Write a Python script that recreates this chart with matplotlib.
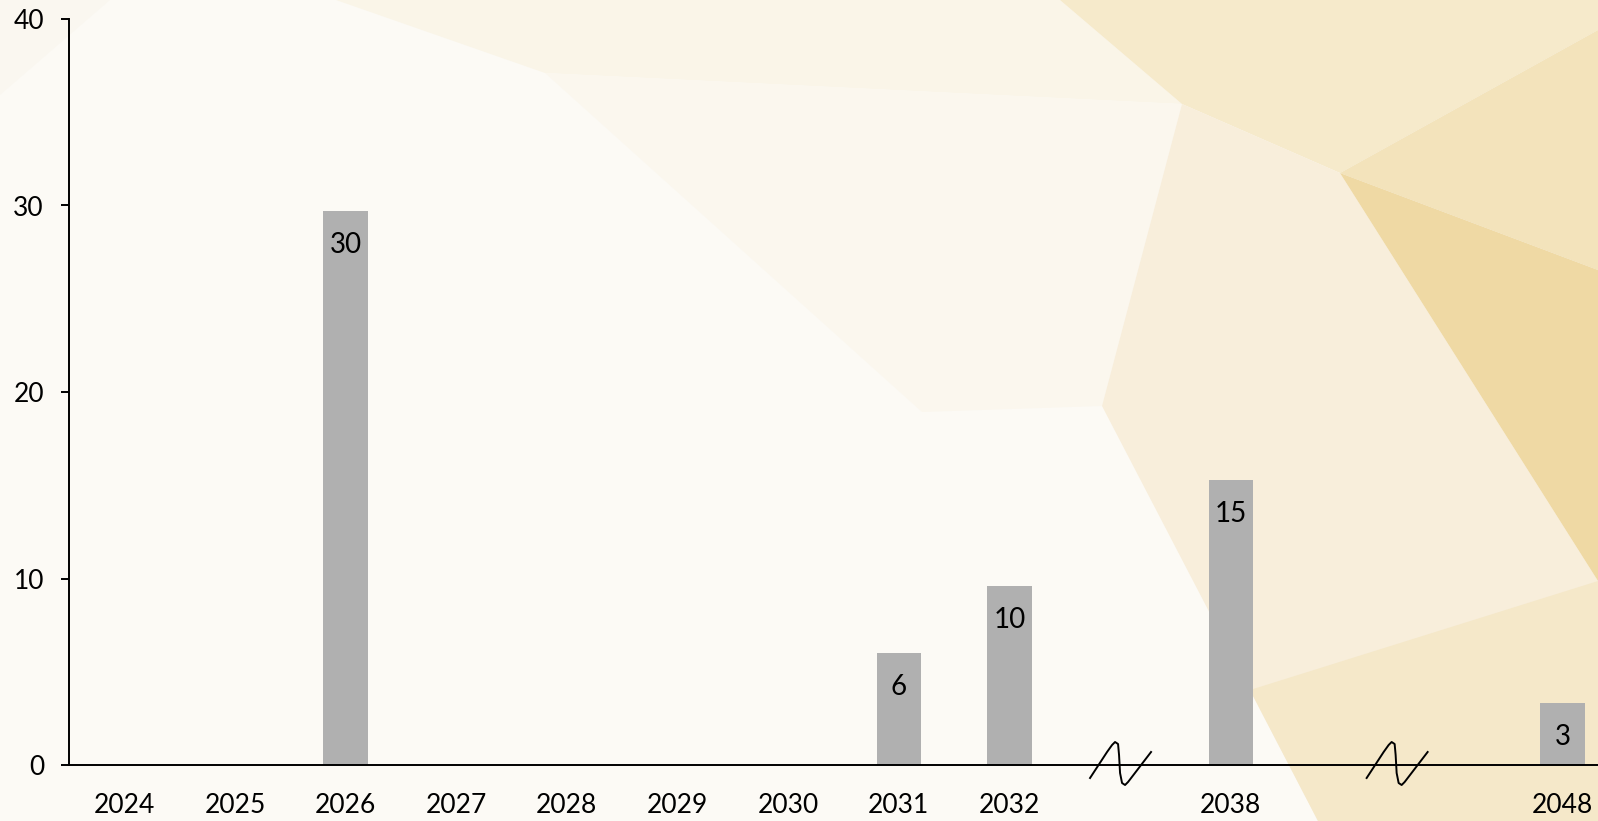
import matplotlib.pyplot as plt
import matplotlib.transforms as mtransforms
from matplotlib.patches import Polygon
from matplotlib.lines import Line2D

# data
years = ['2024', '2025', '2026', '2027', '2028', '2029', '2030', '2031', '2032', '2038', '2048']
values = [0, 0, 29.7, 0, 0, 0, 0, 6, 9.6, 15.3, 3.3]
labels = ['', '', '30', '', '', '', '', '6', '10', '15', '3']
y_ticks = [0, 10, 20, 30, 40]

plt.rcParams['font.family'] = ['Lato', 'DejaVu Sans']

# slots on the x axis: nine consecutive years, then two axis breaks
x_pos = list(range(9)) + [10, 13]
breaks = [9, 11.5]

W, H = 1598, 821
fig = plt.figure(figsize=(W / 100, H / 100), dpi=100)

# faceted cream / gold background
bg = fig.add_axes([0, 0, 1, 1], zorder=-1)
bg.set_xlim(0, W)
bg.set_ylim(H, 0)
bg.axis('off')
bg.add_patch(Polygon([(0, 0), (W, 0), (W, H), (0, H)], color='#fcfaf5'))
shapes = [
    ([(0, 95), (110, 0), (0, 0)], '#faf7f0'),
    ([(336, 0), (1060, 0), (1182, 104), (545, 73)], '#faf5e8'),
    ([(545, 73), (1182, 104), (1102, 406), (922, 412)], '#fbf7ee'),
    ([(1060, 0), (W, 0), (W, 30), (1340, 173), (1182, 104)], '#f6eacb'),
    ([(1340, 173), (W, 30), (W, 270)], '#f3e3bb'),
    ([(1182, 104), (1340, 173), (W, 581), (W, H), (1318, H), (1102, 406)], '#f8eedb'),
    ([(1340, 173), (W, 270), (W, 581)], '#efd9a4'),
    ([(1250, 690), (W, 581), (W, H), (1318, H)], '#f5e8c9'),
]
for pts, c in shapes:
    bg.add_patch(Polygon(pts, color=c, lw=0))

ax = fig.add_axes([69 / W, 56 / H, 1 - 69 / W, (765 - 19) / H])
ax.patch.set_alpha(0)

bars = ax.bar(x_pos, values, width=0.4, color='#b0b0b0', zorder=2)
for rect, lab in zip(bars, labels):
    if lab:
        ax.annotate(lab, (rect.get_x() + rect.get_width() / 2, rect.get_height()),
                    xytext=(0, -34), textcoords='offset pixels',
                    ha='center', va='center', fontsize=20, color='black', zorder=3)

ax.set_xlim(-0.5, 13.32)
ax.set_ylim(0, 40)
ax.set_xticks(x_pos)
ax.set_xticklabels(years, fontsize=19)
ax.set_yticks(y_ticks)
ax.tick_params(axis='y', length=6, width=1.4, pad=12, labelsize=19)
ax.tick_params(axis='x', length=0, pad=20)
for side in ['top', 'right']:
    ax.spines[side].set_visible(False)
for side in ['left', 'bottom']:
    ax.spines[side].set_linewidth(1.4)

# break marks on the x axis (pixel offsets around the break slot)
bx = [-30, -13, -8, -5, -2, -1, 0, 2, 5, 8, 31]
by = [-13, 13, 20, 23, 21, 10, -8, -18, -20, -17, 13]
for b in breaks:
    tr = mtransforms.Affine2D() + mtransforms.ScaledTranslation(b, 0, ax.transData)
    ax.add_line(Line2D(bx, by, transform=tr, color='black', lw=1.4,
                       solid_joinstyle='round', clip_on=False, zorder=4))

fig.savefig('out.png', dpi=100)
